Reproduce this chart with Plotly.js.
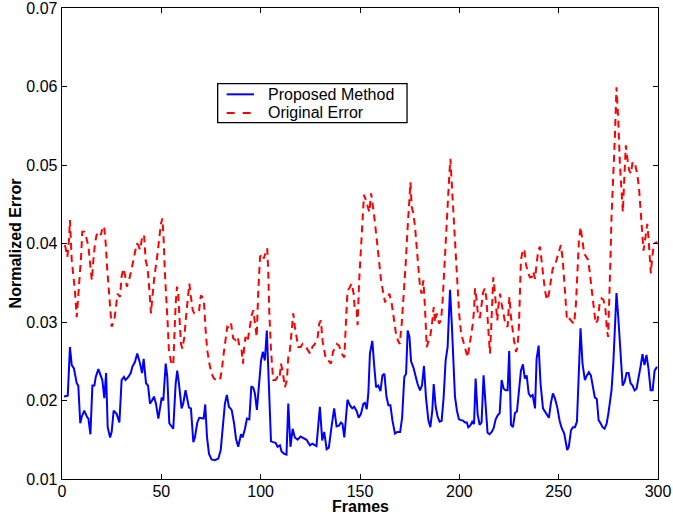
<!DOCTYPE html>
<html>
<head>
<meta charset="utf-8">
<script src="https://cdn.plot.ly/plotly-3.0.1.min.js"></script>
<style>html,body{margin:0;padding:0;background:#fff;}#chart{width:673px;height:516px;}</style>
</head>
<body>
<div id="chart"></div>
<script>
// ---- data ----
const xTicks = [0, 50, 100, 150, 200, 250, 300];
const yTicks = [0.01, 0.02, 0.03, 0.04, 0.05, 0.06, 0.07];
const yTickLabels = ["0.01", "0.02", "0.03", "0.04", "0.05", "0.06", "0.07"];

const seriesNames = ["Proposed Method", "Original Error"];
const seriesColors = ["#0000FF", "#FF0000"];

const proposedFrames = [1,2.9,4,4.9,6,7.4,8.2,9.2,9.9,11.2,12.6,13.3,14.3,15.3,16.3,17,18.3,19.6,20.3,21.3,22.2,23,24.2,25,26,27.5,28.9,30,31.2,32,33.4,34.6,35.4,36.7,37.9,39.3,40.3,41.1,42.3,43.3,44.3,45.3,46.3,47.3,48.5,50.2,51,52.2,53,54,55.2,56,57.2,58,58.9,60.2,61,62.2,62.9,63.9,64.9,66.1,66.9,68.1,69.1,70.3,71.3,72.1,73,74,75.3,77,78.7,79.9,80.9,82,83,84,85.4,86.6,87.6,88.7,90.1,90.9,92.1,93.1,94.3,95.3,96.3,97.1,98.1,99.1,100.2,101.1,102.1,103.1,104.1,105.2,106.3,107.5,108.5,109.7,110.5,111.9,113,113.9,115,116.1,117.2,118.6,120.1,121.4,123.1,124.8,126,128.1,129.8,131,132,133.2,134.3,135.7,137,138.2,139.4,140.4,141.2,142.1,143.7,144.9,146.1,147.1,148.4,149.3,150.5,151.7,152.5,153.4,154.2,155,156.2,157.2,158.1,159.2,160.3,161.3,162.3,163.3,164.3,165.3,166.3,167.6,168.8,170.2,171.2,172.3,173.2,174,174.9,175.7,176.9,177.9,179,180.2,181.2,182.2,183.2,184.4,185.4,186.4,187.1,188.1,189.1,190.1,191.1,192.1,193.1,194.1,195.3,196.2,197,197.8,198.8,199.8,200.9,202,202.8,203.8,204.5,205.5,206.5,207.4,208.2,209.2,210.2,211.2,212.2,213.2,214.2,215.2,216.3,217.3,218.3,219.3,220.3,221.3,222.3,223.3,224.3,225.1,226,227,228,229,230,231,232,233,233.9,234.9,235.9,236.9,238.1,238.9,239.9,240.9,242.1,243.1,244.1,245.1,246.1,247.1,248.1,249.4,250.5,251.5,252.8,253.5,254.3,255.1,256.2,257.2,258.2,259.2,260.2,261,262,263.2,264.2,265.2,266.2,267.2,268.2,269.2,270.1,271.1,272.1,273.1,274.1,275,275.8,276.6,277.5,278.3,279.1,280,281,282.2,283.2,284.2,285.2,286.2,287.2,288.2,289.2,290.2,291.2,292.2,293.2,294.2,295.2,296.3,297.3,298.3,299.5];
const proposedError = [0.0205,0.0206,0.0268,0.0245,0.0241,0.0222,0.0219,0.0171,0.0179,0.0187,0.0179,0.0177,0.0157,0.0219,0.0219,0.0230,0.0240,0.0230,0.0226,0.0203,0.0235,0.0166,0.0153,0.0160,0.0187,0.0183,0.0172,0.0226,0.0230,0.0226,0.0230,0.0235,0.0243,0.0249,0.0260,0.0247,0.0235,0.0253,0.0222,0.0219,0.0196,0.0200,0.0205,0.0196,0.0177,0.0204,0.0200,0.0247,0.0230,0.0171,0.0167,0.0164,0.0221,0.0238,0.0221,0.0190,0.0196,0.0213,0.0204,0.0191,0.0190,0.0147,0.0153,0.0172,0.0178,0.0177,0.0177,0.0195,0.0153,0.0132,0.0125,0.0124,0.0126,0.0137,0.0167,0.0196,0.0207,0.0192,0.0188,0.0171,0.0151,0.0141,0.0157,0.0153,0.0164,0.0177,0.0176,0.0218,0.0216,0.0209,0.0188,0.0222,0.0251,0.0262,0.0251,0.0289,0.0222,0.0148,0.0147,0.0146,0.0141,0.0143,0.0135,0.0132,0.0131,0.0196,0.0141,0.0164,0.0153,0.0150,0.0154,0.0152,0.0150,0.0143,0.0145,0.0142,0.0192,0.0149,0.0160,0.0138,0.0140,0.0167,0.0190,0.0167,0.0168,0.0172,0.0170,0.0153,0.0201,0.0194,0.0190,0.0192,0.0186,0.0178,0.0183,0.0196,0.0197,0.0189,0.0209,0.0260,0.0276,0.0243,0.0217,0.0219,0.0212,0.0232,0.0234,0.0205,0.0194,0.0194,0.0175,0.0158,0.0160,0.0160,0.0178,0.0230,0.0234,0.0289,0.0281,0.0250,0.0242,0.0232,0.0221,0.0213,0.0219,0.0244,0.0204,0.0175,0.0166,0.0187,0.0221,0.0192,0.0179,0.0173,0.0174,0.0204,0.0251,0.0268,0.0341,0.0298,0.0243,0.0205,0.0187,0.0176,0.0175,0.0174,0.0172,0.0172,0.0166,0.0168,0.0173,0.0170,0.0228,0.0183,0.0169,0.0172,0.0232,0.0188,0.0159,0.0157,0.0160,0.0165,0.0176,0.0181,0.0184,0.0226,0.0215,0.0213,0.0213,0.0263,0.0169,0.0166,0.0184,0.0186,0.0213,0.0238,0.0246,0.0228,0.0232,0.0209,0.0205,0.0207,0.0190,0.0253,0.0270,0.0221,0.0190,0.0186,0.0182,0.0178,0.0197,0.0209,0.0203,0.0190,0.0174,0.0165,0.0158,0.0147,0.0137,0.0141,0.0162,0.0166,0.0166,0.0173,0.0247,0.0292,0.0247,0.0226,0.0232,0.0236,0.0232,0.0217,0.0204,0.0202,0.0175,0.0171,0.0166,0.0164,0.0170,0.0183,0.0196,0.0213,0.0247,0.0298,0.0337,0.0306,0.0260,0.0219,0.0224,0.0235,0.0235,0.0222,0.0219,0.0213,0.0215,0.0228,0.0243,0.0259,0.0245,0.0258,0.0241,0.0213,0.0213,0.0238,0.0243];

const originalFrames = [1.5,2.7,3.5,4,4.9,5.7,6.5,7.4,8.2,8.9,9.6,10.2,11.2,12.1,13.3,14.1,15,15.8,16.6,17.4,18.6,19.6,20.5,21.3,22,22.8,23.7,24.5,25,26.3,27.2,28,29.2,30,30.9,31.7,32.6,33.7,35.1,36.3,37.6,38.4,39.3,40.4,41.3,42.1,43.1,44,44.8,45.5,46.5,47.7,48.5,49.8,50.5,51.1,51.8,52.7,53.2,53.8,54.9,56,56.5,57.2,57.9,58.5,59.2,59.9,60.6,61.6,62.4,63.2,64.1,64.9,65.8,66.6,67.8,69,69.9,70.6,71.5,72.3,73.1,74.2,75.3,76.5,77.8,79.5,80.4,81.4,82.4,83.2,84.4,85.1,86.2,87.4,88.4,89.4,90.4,91.1,91.8,92.4,93.4,94.6,95.5,96.3,97.1,98,98.8,99.7,100.5,101.6,102.6,103.3,103.8,104.3,105.2,106.3,107.5,108.5,109.5,110.2,111,112.2,113.2,113.9,114.7,115.6,116.4,117.2,118.1,118.9,120.1,121.1,122.3,123.6,124.8,126,127.3,128.6,129.5,130.3,131.2,132,132.8,134,135.4,136.4,137.4,138.4,139.4,140.4,141.2,142.1,142.9,143.7,144.6,145.8,146.8,147.4,148.3,148.8,149.5,150.4,151.2,152,153,153.9,154.7,155.6,156.4,157.2,158.1,158.9,159.7,160.6,161.8,162.6,163.9,164.8,166,167,168,169,170,171,172,173,173.8,174.7,175.4,176,176.9,177.7,178.5,179.4,180.2,181,181.9,182.7,183.6,184.4,185.3,186.1,187.1,187.8,188.6,189.8,190.8,191.6,192.5,193.3,194.1,195,195.5,196.2,197,197.8,198.8,199.9,200.9,202,203.2,204.2,205,205.9,206.7,207.4,207.9,208.7,209.5,210.4,211.2,212,212.9,213.7,214.2,214.9,215.4,215.9,216.6,217.1,217.6,218.3,219.1,219.6,220.5,221.3,222.1,223.3,224.3,225.2,226,226.7,227.5,228.5,229.3,230,230.5,231,231.9,232.7,233.5,234.4,235.5,236.4,237.2,238.1,238.9,239.7,240.6,241.4,242.3,243.1,244.1,245.1,246.1,247,248.1,249.1,250.1,251.1,252,252.8,253.5,254.2,254.9,255.6,256.8,257.8,258.7,259.5,260.2,261,261.9,262.9,263.9,264.9,265.7,266.6,267.6,268.6,269.6,270.6,271.6,272.6,273.6,274.3,274.9,275.6,276.1,276.6,277.5,278.3,279.1,280,280.8,281.7,282.3,283,283.8,284.7,285.5,286.4,287.2,288.4,289.5,290.4,291.2,292.1,292.7,293.7,294.6,295.2,295.9,296.4,297.1,297.8,298.4,299.5];
const originalError = [0.0398,0.0383,0.0404,0.0430,0.0379,0.0358,0.0340,0.0306,0.0340,0.0358,0.0383,0.0415,0.0415,0.0409,0.0396,0.0374,0.0353,0.0379,0.0400,0.0411,0.0415,0.0411,0.0422,0.0419,0.0400,0.0366,0.0332,0.0306,0.0294,0.0302,0.0319,0.0336,0.0332,0.0358,0.0368,0.0360,0.0345,0.0353,0.0368,0.0383,0.0400,0.0398,0.0392,0.0409,0.0411,0.0379,0.0368,0.0340,0.0311,0.0332,0.0358,0.0379,0.0400,0.0425,0.0432,0.0409,0.0362,0.0328,0.0298,0.0264,0.0249,0.0245,0.0281,0.0323,0.0345,0.0336,0.0302,0.0272,0.0266,0.0281,0.0306,0.0328,0.0349,0.0332,0.0315,0.0311,0.0312,0.0315,0.0334,0.0332,0.0323,0.0289,0.0264,0.0247,0.0234,0.0228,0.0226,0.0226,0.0238,0.0260,0.0281,0.0294,0.0292,0.0298,0.0279,0.0277,0.0281,0.0268,0.0264,0.0247,0.0272,0.0281,0.0275,0.0294,0.0309,0.0315,0.0298,0.0281,0.0340,0.0383,0.0387,0.0381,0.0389,0.0394,0.0366,0.0315,0.0264,0.0226,0.0226,0.0230,0.0228,0.0247,0.0238,0.0217,0.0226,0.0255,0.0264,0.0289,0.0311,0.0294,0.0277,0.0268,0.0268,0.0272,0.0270,0.0264,0.0260,0.0268,0.0272,0.0279,0.0298,0.0302,0.0275,0.0264,0.0253,0.0251,0.0247,0.0262,0.0268,0.0272,0.0270,0.0262,0.0258,0.0255,0.0294,0.0340,0.0343,0.0349,0.0336,0.0315,0.0315,0.0296,0.0349,0.0391,0.0430,0.0462,0.0455,0.0447,0.0440,0.0464,0.0451,0.0434,0.0413,0.0391,0.0370,0.0353,0.0336,0.0325,0.0332,0.0336,0.0323,0.0306,0.0287,0.0277,0.0272,0.0298,0.0332,0.0374,0.0413,0.0455,0.0478,0.0447,0.0438,0.0421,0.0396,0.0370,0.0345,0.0336,0.0353,0.0319,0.0268,0.0275,0.0281,0.0294,0.0319,0.0300,0.0311,0.0298,0.0302,0.0328,0.0366,0.0404,0.0447,0.0489,0.0508,0.0476,0.0438,0.0396,0.0353,0.0311,0.0285,0.0275,0.0266,0.0255,0.0268,0.0281,0.0296,0.0315,0.0343,0.0328,0.0306,0.0306,0.0321,0.0338,0.0343,0.0328,0.0306,0.0281,0.0260,0.0285,0.0328,0.0357,0.0345,0.0319,0.0302,0.0319,0.0336,0.0323,0.0311,0.0296,0.0294,0.0332,0.0306,0.0289,0.0277,0.0262,0.0268,0.0294,0.0336,0.0379,0.0391,0.0393,0.0374,0.0364,0.0357,0.0357,0.0364,0.0355,0.0374,0.0391,0.0396,0.0376,0.0357,0.0340,0.0328,0.0336,0.0353,0.0368,0.0372,0.0381,0.0391,0.0398,0.0381,0.0349,0.0332,0.0302,0.0302,0.0304,0.0300,0.0298,0.0323,0.0366,0.0404,0.0421,0.0404,0.0387,0.0383,0.0379,0.0362,0.0340,0.0319,0.0298,0.0302,0.0323,0.0330,0.0328,0.0315,0.0289,0.0281,0.0332,0.0383,0.0434,0.0481,0.0536,0.0599,0.0557,0.0502,0.0459,0.0440,0.0481,0.0525,0.0506,0.0493,0.0489,0.0504,0.0502,0.0489,0.0472,0.0442,0.0421,0.0391,0.0408,0.0425,0.0408,0.0374,0.0362,0.0383,0.0396,0.0400,0.0402];

const FONT = '"Liberation Sans", Arial, Helvetica, sans-serif';
const RED_DASH = '7px,5px';

const traces = [
  {x: proposedFrames, y: proposedError, name: seriesNames[0], type: 'scatter', mode: 'lines',
   showlegend: false, line: {color: seriesColors[0], width: 2}},
  {x: originalFrames, y: originalError, name: seriesNames[1], type: 'scatter', mode: 'lines',
   showlegend: false, line: {color: seriesColors[1], width: 2, dash: RED_DASH}}
];

const axisCommon = {
  showgrid: false, zeroline: false, showline: true, linecolor: '#000', linewidth: 1.3,
  mirror: 'allticks', ticks: 'inside', ticklen: 5, tickwidth: 1, tickcolor: '#000',
  ticklabeloverflow: 'allow',
  tickfont: {family: FONT, size: 16, color: '#000'}
};

// legend box (paper coordinates of the plot area) drawn as shapes + text
const legendBox = {x0: 0.2612, x1: 0.5789, y0: 0.7567, y1: 0.8395};
const legendRows = [0.8167, 0.7771];
const legendLineX = [0.2763, 0.3221];
const legendTextX = 0.3461;

const shapes = [
  {type: 'rect', xref: 'paper', yref: 'paper', x0: legendBox.x0, x1: legendBox.x1, y0: legendBox.y0, y1: legendBox.y1,
   line: {color: '#000', width: 1.3}, fillcolor: '#fff', layer: 'above'},
  {type: 'line', xref: 'paper', yref: 'paper', x0: legendLineX[0], x1: legendLineX[1], y0: legendRows[0], y1: legendRows[0],
   line: {color: seriesColors[0], width: 2}},
  {type: 'line', xref: 'paper', yref: 'paper', x0: legendLineX[0], x1: 0.3166, y0: legendRows[1], y1: legendRows[1],
   line: {color: seriesColors[1], width: 2, dash: '8px,8px'}}
];

const annotations = [
  {xref: 'paper', yref: 'paper', x: legendTextX, y: legendRows[0], xanchor: 'left', yanchor: 'middle',
   text: seriesNames[0], showarrow: false, font: {family: FONT, size: 16, color: '#000'}, xshift: -2},
  {xref: 'paper', yref: 'paper', x: legendTextX, y: legendRows[1], xanchor: 'left', yanchor: 'middle',
   text: seriesNames[1], showarrow: false, font: {family: FONT, size: 16, color: '#000'}, xshift: -2},
  {xref: 'paper', yref: 'paper', x: 0.5, y: -0.0792, xanchor: 'center', yanchor: 'bottom', borderpad: 0,
   text: '<b>Frames</b>', showarrow: false, font: {family: FONT, size: 16, color: '#000'}}
];

const layout = {
  width: 673, height: 516,
  margin: {l: 62, r: 15, t: 8, b: 37},
  paper_bgcolor: '#fff', plot_bgcolor: '#fff',
  font: {family: FONT, color: '#000'},
  showlegend: false,
  xaxis: Object.assign({}, axisCommon, {
    range: [0, 300], tickvals: xTicks, ticktext: xTicks.map(String), ticklabelstandoff: -3
  }),
  yaxis: Object.assign({}, axisCommon, {
    range: [0.01, 0.07], tickvals: yTicks, ticktext: yTickLabels,
    title: {text: '<b>Normalized Error</b>', font: {family: FONT, size: 16, color: '#000'}, standoff: 0}
  }),
  shapes: shapes,
  annotations: annotations
};

Plotly.newPlot('chart', traces, layout, {staticPlot: true, displayModeBar: false});
</script>
</body>
</html>
